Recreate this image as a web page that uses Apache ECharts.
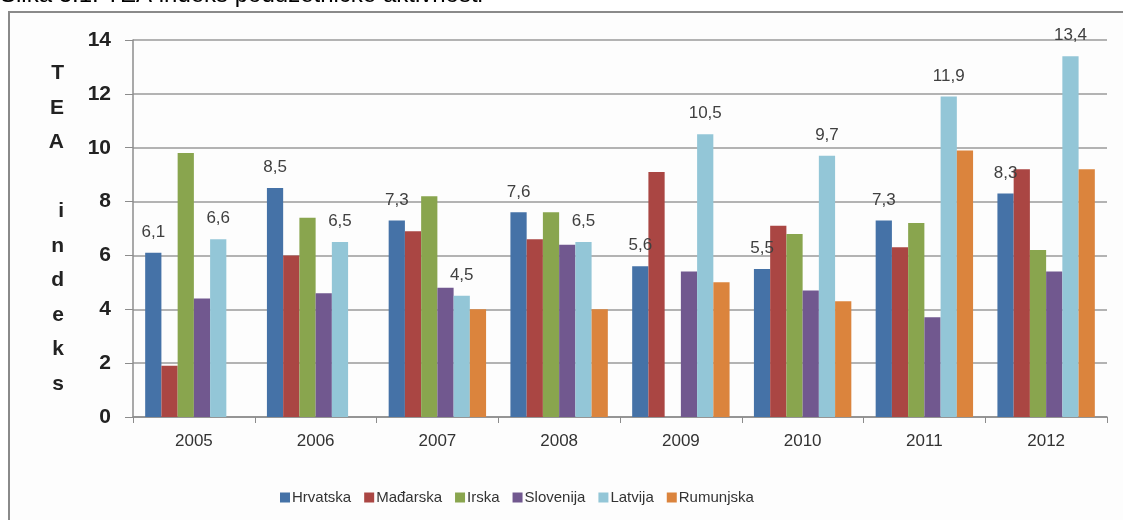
<!DOCTYPE html>
<html>
<head>
<meta charset="utf-8">
<script src="https://cdn.jsdelivr.net/npm/echarts@6/dist/echarts.min.js"></script>
<style>
  html, body { margin: 0; padding: 0; background: #fff; }
  #chart { width: 1123px; height: 520px; }
</style>
</head>
<body>
<div id="chart"></div>
<script>
// godine
const years = ['2005', '2006', '2007', '2008', '2009', '2010', '2011', '2012']

// TEA indeks po zemljama (null = nema podatka)
const hrvatska = [6.1, 8.5, 7.3, 7.6, 5.6, 5.5, 7.3, 8.3]
const madarska = [1.9, 6.0, 6.9, 6.6, 9.1, 7.1, 6.3, 9.2]
const irska = [9.8, 7.4, 8.2, 7.6, null, 6.8, 7.2, 6.2]
const slovenija = [4.4, 4.6, 4.8, 6.4, 5.4, 4.7, 3.7, 5.4]
const latvija = [6.6, 6.5, 4.5, 6.5, 10.5, 9.7, 11.9, 13.4]
const rumunjska = [null, null, 4.0, 4.0, 5.0, 4.3, 9.9, 9.2]

const yTicks = [0, 2, 4, 6, 8, 10, 12, 14]

const font = 'Liberation Sans, Arial, sans-serif'

const chart = echarts.init(document.getElementById('chart'))

// labela s decimalnim zarezom
const label = {
  show: true,
  position: 'top',
  distance: 12,
  color: '#404040',
  fontSize: 17,
  fontFamily: font,
  formatter: (p) => String(p.value).replace('.', ','),
}

const mkSeries = (name, data, color, withLabel) => ({
  name: name,
  type: 'bar',
  data: data,
  barGap: 0,
  barCategoryGap: '20%',
  itemStyle: { color: color },
  label: withLabel ? label : { show: false },
})

const option = {
  backgroundColor: '#ffffff',
  animation: false,
  graphic: [
    {
      type: 'rect',
      left: 8,
      top: 11,
      shape: { width: 1130, height: 530 },
      style: { fill: '#fdfdfd', stroke: '#8a8a8a', lineWidth: 2 },
      z: -10,
    },
    {
      type: 'text',
      left: 0,
      top: -17,
      style: {
        text: 'Slika 3.1. TEA indeks poduzetničke aktivnosti',
        fill: '#000',
        font: '24px ' + font,
      },
    },
  ],
  grid: { left: 133, right: 16, top: 40, bottom: 103 },
  legend: {
    left: 275,
    top: 485,
    itemWidth: 10,
    itemHeight: 10,
    itemGap: 13,
    icon: 'rect',
    textStyle: { fontSize: 15, color: '#333', fontFamily: font, padding: [0, 0, 0, -3] },
  },
  xAxis: {
    type: 'category',
    data: years,
    axisLine: { lineStyle: { color: '#8c8c8c', width: 1.5 } },
    axisTick: { show: true, length: 6, lineStyle: { color: '#8c8c8c' } },
    axisLabel: { color: '#333', fontSize: 17, fontFamily: font, margin: 16 },
  },
  yAxis: {
    type: 'value',
    min: yTicks[0],
    max: yTicks[yTicks.length - 1],
    interval: 2,
    name: 'T\nE\nA\n\ni\nn\nd\ne\nk\ns',
    nameLocation: 'middle',
    nameRotate: 0,
    nameGap: 69,
    nameTextStyle: { fontSize: 21, fontWeight: 'bold', color: '#222', fontFamily: font, lineHeight: 34.5 },
    axisLine: { show: true, lineStyle: { color: '#8c8c8c', width: 1.5 } },
    axisTick: { show: true, length: 8, lineStyle: { color: '#8c8c8c' } },
    axisLabel: { color: '#222', fontSize: 21, fontWeight: 'bold', fontFamily: font, margin: 22 },
    splitLine: { lineStyle: { color: '#9a9a9a', width: 1.5 } },
  },
  series: [
    mkSeries('Hrvatska', hrvatska, '#4572A7', true),
    mkSeries('Mađarska', madarska, '#AA4643', false),
    mkSeries('Irska', irska, '#89A54E', false),
    mkSeries('Slovenija', slovenija, '#71588F', false),
    mkSeries('Latvija', latvija, '#93C6D7', true),
    mkSeries('Rumunjska', rumunjska, '#DB843D', false),
  ],
}

option && chart.setOption(option)
</script>
</body>
</html>
